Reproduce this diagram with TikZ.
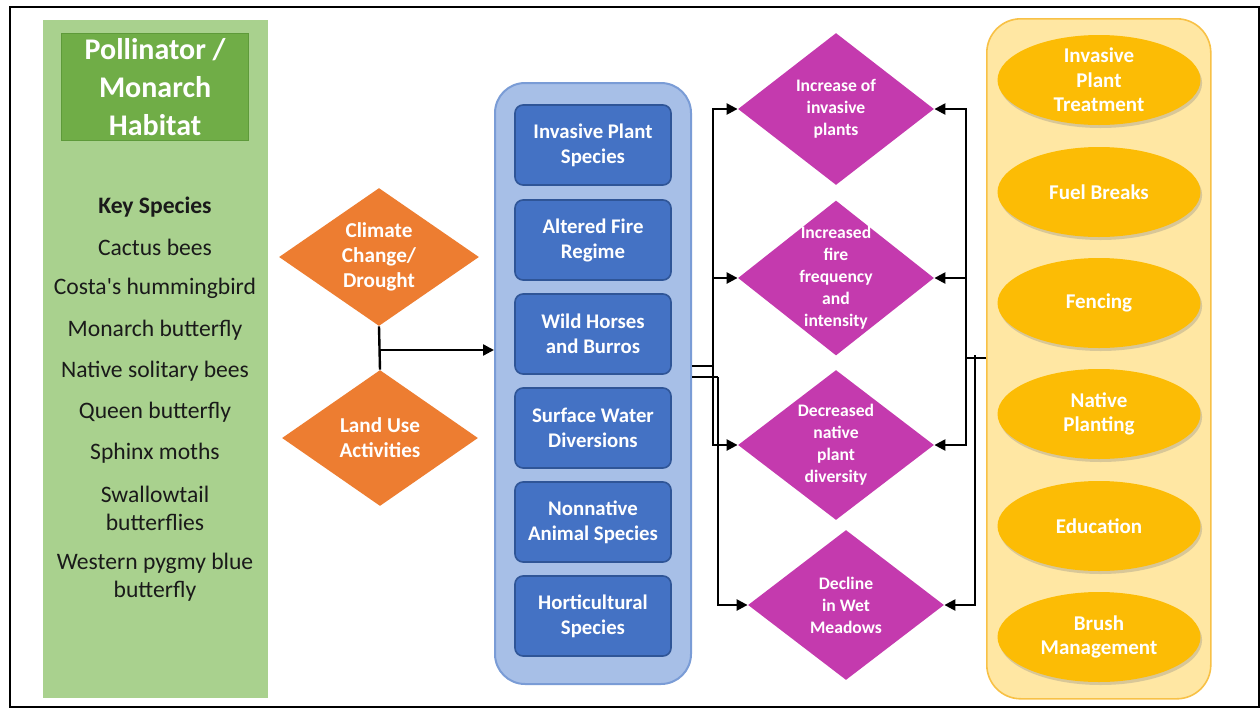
\documentclass[tikz,border=0pt]{standalone}
\usepackage{fontspec}
\setmainfont{Carlito}
\usetikzlibrary{shapes.geometric,shadows,arrows.meta}
\definecolor{greenL}{HTML}{A9D18E}
\definecolor{greenD}{HTML}{70AD47}
\definecolor{greenB}{HTML}{5E9A3A}
\definecolor{orangeD}{HTML}{ED7D31}
\definecolor{blueL}{HTML}{A7BFE7}
\definecolor{blueLB}{HTML}{7A9CD6}
\definecolor{blueD}{HTML}{4472C4}
\definecolor{blueDB}{HTML}{2F5597}
\definecolor{magentaD}{HTML}{C43AAE}
\definecolor{yellowL}{HTML}{FFE7A3}
\definecolor{yellowLB}{HTML}{F8C146}
\definecolor{goldD}{HTML}{FCBC05}
\definecolor{txtD}{HTML}{1A1A1A}
\tikzset{
  panel/.style={anchor=north west, inner sep=0pt},
  sptxt/.style={text=txtD, align=center, font=\fontsize{11.8}{14}\selectfont},
  odiam/.style={diamond, fill=orangeD, inner sep=0pt, minimum width=100pt, minimum height=69pt},
  otxt/.style={text=white, align=center, font=\fontsize{10.6}{12.5}\selectfont\bfseries},
  bbox/.style={rectangle, rounded corners=4pt, fill=blueD, draw=blueDB, line width=0.8pt, minimum width=78pt, minimum height=40pt, inner sep=0pt},
  btxt/.style={text=white, align=center, font=\fontsize{10.4}{12.5}\selectfont\bfseries},
  mdiam/.style={diamond, fill=magentaD, inner sep=0pt, minimum width=98pt, minimum height=76pt},
  mtxt/.style={text=white, align=center, font=\fontsize{8.8}{11}\selectfont\bfseries},
  yell/.style={ellipse, fill=goldD, inner sep=0pt, minimum width=101.5pt, minimum height=45pt,
     drop shadow={opacity=0.3, shadow xshift=0.8pt, shadow yshift=-1.5pt}},
  ytxt/.style={text=white, align=center, font=\fontsize{10.5}{12.25}\selectfont\bfseries},
  conn/.style={line width=1.2pt, black},
  arr/.style={conn, -{Triangle[length=5.5pt,width=5.5pt]}}
}
\begin{document}
\begin{tikzpicture}[x=0.5pt,y=-0.5pt]
\useasboundingbox (0,0) rectangle (1260,708);
\fill[white] (0,0) rectangle (1260,708);
\node[panel, draw=black, line width=1pt, minimum width=624.5pt, minimum height=350pt] (frame) at (9,6) {};

% green column
\node[panel, fill=greenL, minimum width=112.5pt, minimum height=339pt] (col) at (43,20) {};
\node[panel, fill=greenD, draw=greenB, line width=0.6pt, minimum width=93.5pt, minimum height=53.5pt] (title) at (61,33) {};
\node[text=white, align=center, font=\fontsize{15}{19}\selectfont\bfseries] (titletxt) at (title.center) {Pollinator /\\Monarch\\Habitat};
\node[sptxt, font=\fontsize{11.8}{14}\selectfont\bfseries] (ks) at (155,207) {Key Species};
\node[sptxt] (s1) at (155,247) {Cactus bees};
\node[sptxt] (s2) at (155,288) {Costa\textquotesingle s hummingbird};
\node[sptxt] (s3) at (155,330) {Monarch butterfly};
\node[sptxt] (s4) at (155,371) {Native solitary bees};
\node[sptxt] (s5) at (155,412) {Queen butterfly};
\node[sptxt] (s6) at (155,453) {Sphinx moths};
\node[sptxt] (s7) at (155,508) {Swallowtail\\butterflies};
\node[sptxt] (s8) at (155,577) {Western pygmy blue\\butterfly};

% orange diamonds
\node[odiam] (clim) at (379,257) {};
\node[otxt] at (clim.center) {Climate\\Change/\\Drought};
\node[odiam, minimum width=98pt, minimum height=68pt] (land) at (380,438) {};
\node[otxt] at (land.center) {Land Use\\Activities};

% blue container
\node[panel, rounded corners=15pt, fill=blueL, draw=blueLB, line width=1pt, minimum width=98pt, minimum height=300.5pt] (cont) at (494,82) {};
\node[bbox] (b1) at (593,145) {};
\node[btxt] at (b1.center) {Invasive Plant\\Species};
\node[bbox] (b2) at (593,240) {};
\node[btxt] at (b2.center) {Altered Fire\\Regime};
\node[bbox] (b3) at (593,334) {};
\node[btxt] at (b3.center) {Wild Horses\\and Burros};
\node[bbox] (b4) at (593,428) {};
\node[btxt] at (b4.center) {Surface Water\\Diversions};
\node[bbox] (b5) at (593,522) {};
\node[btxt] at (b5.center) {Nonnative\\Animal Species};
\node[bbox] (b6) at (593,616) {};
\node[btxt] at (b6.center) {Horticultural\\Species};

% magenta diamonds
\node[mdiam] (d1) at (836,109) {};
\node[mtxt] at (d1.center) {Increase of\\invasive\\plants};
\node[mdiam, minimum height=77.5pt] (d2) at (836,278) {};
\node[mtxt] at (d2.center) {Increased\\fire\\frequency\\and\\intensity};
\node[mdiam, minimum height=75pt] (d3) at (836,445) {};
\node[mtxt] at (d3.center) {Decreased\\native\\plant\\diversity};
\node[mdiam, minimum height=75pt] (d4) at (846,605) {};
\node[mtxt] at (d4.center) {Decline\\in Wet\\Meadows};

% yellow container
\node[panel, rounded corners=17pt, fill=yellowL, draw=yellowLB, line width=0.8pt, minimum width=112pt, minimum height=340pt] (ycont) at (986,18) {};
\node[yell] (y1) at (1099,80) {};
\node[ytxt] at (y1.center) {Invasive\\Plant\\Treatment};
\node[yell] (y2) at (1099,192) {};
\node[ytxt] at (y2.center) {Fuel Breaks};
\node[yell] (y3) at (1099,303) {};
\node[ytxt] at (y3.center) {Fencing};
\node[yell] (y4) at (1099,414) {};
\node[ytxt] at (y4.center) {Native\\Planting};
\node[yell] (y5) at (1099,526) {};
\node[ytxt] at (y5.center) {Education};
\node[yell] (y6) at (1099,637) {};
\node[ytxt] at (y6.center) {Brush\\Management};

% connectors: drivers to stressors
\coordinate (j0) at (379,350);
\draw[conn] (clim.south) -- (land.north);
\draw[arr] (j0) -- (cont.west |- j0);

% stressors to effects
\coordinate (bA) at (cont.east |- 0,366);
\coordinate (bB) at (cont.east |- 0,377);
\coordinate (vA) at (713,366);
\coordinate (vB) at (718,377);
\draw[conn] (bA) -- (vA);
\draw[arr] (vA) |- (d1.west);
\draw[arr] (vA) |- (d2.west);
\draw[arr] (vA) |- (d3.west);
\draw[conn] (bB) -- (vB);
\draw[arr] (vB) |- (d4.west);

% actions to effects
\coordinate (yA) at (ycont.west |- 0,358);
\coordinate (wA) at (966,358);
\coordinate (wB) at (975,355);
\draw[conn] (yA) -- (wA);
\draw[arr] (wA) |- (d1.east);
\draw[arr] (wA) |- (d2.east);
\draw[arr] (wA) |- (d3.east);
\draw[arr] (wB) |- (d4.east);
\end{tikzpicture}
\end{document}
